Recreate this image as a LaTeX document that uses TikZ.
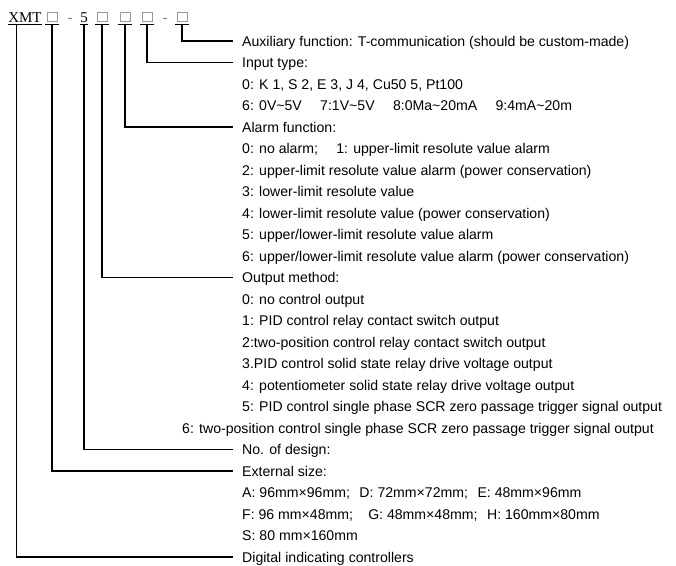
\documentclass[tikz,border=0pt]{standalone}
\usepackage{fontspec}
\setmainfont{Liberation Sans}
\newfontfamily\serifhdr{Liberation Serif}
\newcommand{\bodyfont}{\fontsize{14.1}{17}\selectfont}
\newcommand{\codefont}{\serifhdr\fontsize{15}{18}\selectfont}
\newcommand{\tld}{\textasciitilde}

\begin{document}
\begin{tikzpicture}[x=1pt,y=1pt,
  item/.style={anchor=west,inner xsep=9pt,inner ysep=0pt,text height=10pt,text depth=0pt,font=\bodyfont},
  code/.style={anchor=base,inner sep=0pt,font=\codefont},
  slot/.style={draw=gray!80,line width=0.6pt,anchor=south,minimum width=10pt,minimum height=9pt,inner sep=0pt},
  lead/.style={line width=1.2pt}]
  \useasboundingbox (0,0) rectangle (676,-565);
  % model code
  \node[code] (xmt) at (25,-22) {XMT};
  \node[slot] (s1) at (52,-22) {};
  \node[code,gray] (dash1) at (70,-22) {-};
  \node[code] (five) at (84,-22) {5};
  \node[slot] (s2) at (102,-22) {};
  \node[slot] (s3) at (125,-22) {};
  \node[slot] (s4) at (147,-22) {};
  \node[code,gray] (dash2) at (165,-22) {-};
  \node[slot] (s5) at (182,-22) {};
  \draw[line width=0.8pt] ([yshift=-2pt]xmt.base west) -- ([yshift=-2pt]xmt.base east);
  \draw[line width=0.8pt] ([yshift=-2pt]five.base west) -- ([yshift=-2pt]five.base east);
  \foreach \s in {s1,s2,s3,s4,s5}
    \draw[line width=0.8pt] ([shift={(-7pt,-2pt)}]\s.south) -- ([shift={(7pt,-2pt)}]\s.south);
  % explanations
  \node[item] (aux) at (233,-41) {Auxiliary function: T-communication (should be custom-made)};
  \node[item] (input) at (233,-62.5) {Input type:};
  \node[item] (in0) at (233,-84) {0: K 1, S 2, E 3, J 4, Cu50 5, Pt100};
  \node[item] (in6) at (233,-105.5) {6: 0V\tld5V\hspace{1.3em}7:1V\tld5V\hspace{1.3em}8:0Ma\tld20mA\hspace{1.3em}9:4mA\tld20m};
  \node[item] (alarm) at (233,-127) {Alarm function:};
  \node[item] (al0) at (233,-148.5) {0: no alarm;\hspace{1.3em}1: upper-limit resolute value alarm};
  \node[item] (al2) at (233,-170) {2: upper-limit resolute value alarm (power conservation)};
  \node[item] (al3) at (233,-191.5) {3: lower-limit resolute value};
  \node[item] (al4) at (233,-213) {4: lower-limit resolute value (power conservation)};
  \node[item] (al5) at (233,-234.5) {5: upper/lower-limit resolute value alarm};
  \node[item] (al6) at (233,-256) {6: upper/lower-limit resolute value alarm (power conservation)};
  \node[item] (output) at (233,-277.5) {Output method:};
  \node[item] (out0) at (233,-299) {0: no control output};
  \node[item] (out1) at (233,-320.5) {1: PID control relay contact switch output};
  \node[item] (out2) at (233,-342) {2:two-position control relay contact switch output};
  \node[item] (out3) at (233,-363.5) {3.PID control solid state relay drive voltage output};
  \node[item] (out4) at (233,-385) {4: potentiometer solid state relay drive voltage output};
  \node[item] (out5) at (233,-406.5) {5: PID control single phase SCR zero passage trigger signal output};
  \node[item] (out6) at (173,-428) {6: two-position control single phase SCR zero passage trigger signal output};
  \node[item] (design) at (233,-449.5) {No. of design:};
  \node[item] (size) at (233,-471) {External size:};
  \node[item] (sizeA) at (233,-492.5) {A: 96mm×96mm;\hspace{0.4em} D: 72mm×72mm;\hspace{0.4em} E: 48mm×96mm};
  \node[item] (sizeF) at (233,-514) {F: 96 mm×48mm;\hspace{0.8em} G: 48mm×48mm;\hspace{0.4em} H: 160mm×80mm};
  \node[item] (sizeS) at (233,-535.5) {S: 80 mm×160mm};
  \node[item] (dig) at (233,-557) {Digital indicating controllers};
  % leaders
  \draw[lead] ([yshift=-2pt]s5.south) |- (aux.west);
  \draw[lead] ([yshift=-2pt]s4.south) |- (input.west);
  \draw[lead] ([yshift=-2pt]s3.south) |- (alarm.west);
  \draw[lead] ([yshift=-2pt]s2.south) |- (output.west);
  \draw[lead] ([yshift=-2pt]five.base) |- (design.west);
  \draw[lead] ([yshift=-2pt]s1.south) |- (size.west);
  \draw[lead] ([shift={(8pt,-2pt)}]xmt.base west) |- (dig.west);
\end{tikzpicture}
\end{document}
